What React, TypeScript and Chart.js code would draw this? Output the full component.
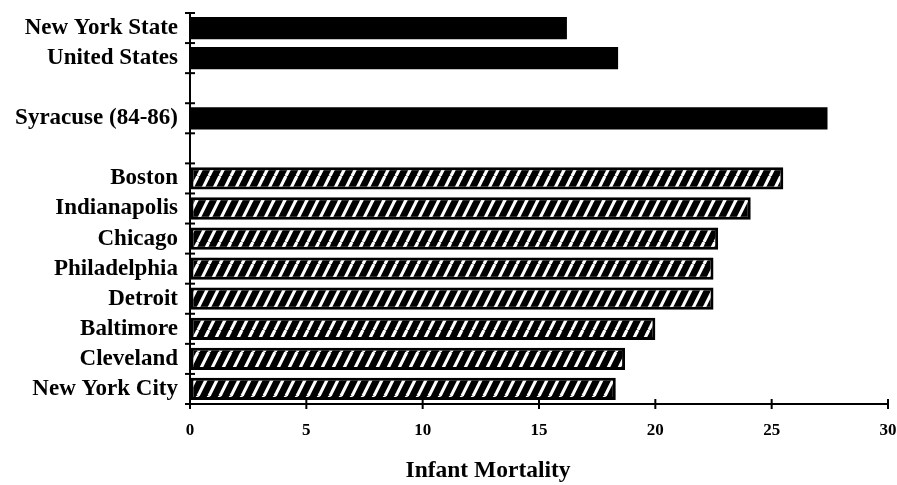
import React, { useEffect, useRef } from "react";
import { Chart, registerables } from "chart.js";

Chart.register(...registerables);

const categories: string[] = [
  "New York State",
  "United States",
  "",
  "Syracuse (84-86)",
  "",
  "Boston",
  "Indianapolis",
  "Chicago",
  "Philadelphia",
  "Detroit",
  "Baltimore",
  "Cleveland",
  "New York City",
];

const infantMortality: (number | null)[] = [
  16.2, 18.4, null, 27.4, null, 25.5, 24.1, 22.7, 22.5, 22.5, 20.0, 18.7, 18.3,
];

const referenceAreas: string[] = ["New York State", "United States", "Syracuse (84-86)"];

const xTicks: number[] = [0, 5, 10, 15, 20, 25, 30];

const axisTitle = "Infant Mortality";

const FONT = "'Liberation Serif', 'Times New Roman', serif";

function makeHatch(ctx: CanvasRenderingContext2D): CanvasPattern | string {
  const c = document.createElement("canvas");
  const w = 11;
  const h = 22;
  c.width = w;
  c.height = h;
  const p = c.getContext("2d");
  if (!p) return "#000";
  p.fillStyle = "#000";
  p.fillRect(0, 0, w, h);
  p.strokeStyle = "#fff";
  p.lineWidth = 3.2;
  for (let k = -1; k <= 1; k++) {
    p.beginPath();
    p.moveTo(k * w, h);
    p.lineTo(k * w + w, 0);
    p.stroke();
  }
  return ctx.createPattern(c, "repeat") || "#000";
}

const crossTicks = {
  id: "crossTicks",
  afterDraw(chart: any) {
    const { ctx, chartArea } = chart;
    const xs = chart.scales.x;
    ctx.save();
    ctx.strokeStyle = "#000";
    ctx.lineWidth = 2;
    const n = categories.length;
    const step = (chartArea.bottom - chartArea.top) / n;
    for (let i = 0; i <= n; i++) {
      const y = chartArea.top + i * step;
      ctx.beginPath();
      ctx.moveTo(chartArea.left - 5, y);
      ctx.lineTo(chartArea.left + 5, y);
      ctx.stroke();
    }
    for (const v of xTicks) {
      const x = xs.getPixelForValue(v);
      ctx.beginPath();
      ctx.moveTo(x, chartArea.bottom - 5);
      ctx.lineTo(x, chartArea.bottom + 5);
      ctx.stroke();
    }
    // axis title, set slightly left of the axis centre as in the original
    ctx.fillStyle = "#000";
    ctx.font = `bold 23.5px ${FONT}`;
    ctx.textAlign = "center";
    ctx.textBaseline = "middle";
    const tx = chartArea.left + (chartArea.right - chartArea.left) * 0.427;
    ctx.fillText(axisTitle, tx, chart.height - 14);
    ctx.restore();
  },
};

export default function App() {
  const ref = useRef<HTMLCanvasElement | null>(null);
  useEffect(() => {
    const canvas = ref.current;
    if (!canvas) return;
    const ctx = canvas.getContext("2d");
    if (!ctx) return;
    const hatch = makeHatch(ctx);
    const isSolid = categories.map((c) => referenceAreas.includes(c));
    const chart = new Chart(canvas, {
      type: "bar",
      data: {
        labels: categories,
        datasets: [
          {
            data: infantMortality as any,
            backgroundColor: isSolid.map((s) => (s ? "#000" : hatch)) as any,
            borderColor: "#000",
            borderWidth: isSolid.map((s) => (s ? 0 : 3)) as any,
            borderSkipped: false,
            barPercentage: 0.74,
            categoryPercentage: 1,
          },
        ],
      },
      options: {
        indexAxis: "y",
        animation: false,
        responsive: false,
        maintainAspectRatio: false,
        layout: { padding: { top: 13, right: 9, left: 0, bottom: 0 } },
        plugins: {
          legend: { display: false },
          tooltip: { enabled: false },
        },
        scales: {
          x: {
            min: 0,
            max: 30,
            afterBuildTicks: (s: any) => {
              s.ticks = xTicks.map((v) => ({ value: v }));
            },
            grid: { display: true, drawOnChartArea: false, drawTicks: false },
            border: { display: true, color: "#000", width: 2 },
            ticks: {
              color: "#000",
              padding: 16,
              font: { family: FONT, size: 17, weight: "bold" },
            },
            afterFit: (s: any) => {
              s.height = 81;
              s.paddingLeft = 0;
              s.paddingRight = 0;
            },
          },
          y: {
            grid: { display: true, drawOnChartArea: false, drawTicks: false },
            border: { display: true, color: "#000", width: 2 },
            ticks: {
              color: "#000",
              padding: 12,
              autoSkip: false,
              font: { family: FONT, size: 23, weight: "bold" },
            },
            afterFit: (s: any) => {
              s.width = 190;
              s.paddingTop = 0;
              s.paddingBottom = 0;
            },
          },
        },
      },
      plugins: [crossTicks],
    });
    return () => chart.destroy();
  }, []);
  return (
    <div style={{ position: "fixed", left: 0, top: 0, width: 897, height: 485, background: "#fff" }}>
      <canvas ref={ref} width={897} height={485} style={{ width: 897, height: 485 }} />
    </div>
  );
}
